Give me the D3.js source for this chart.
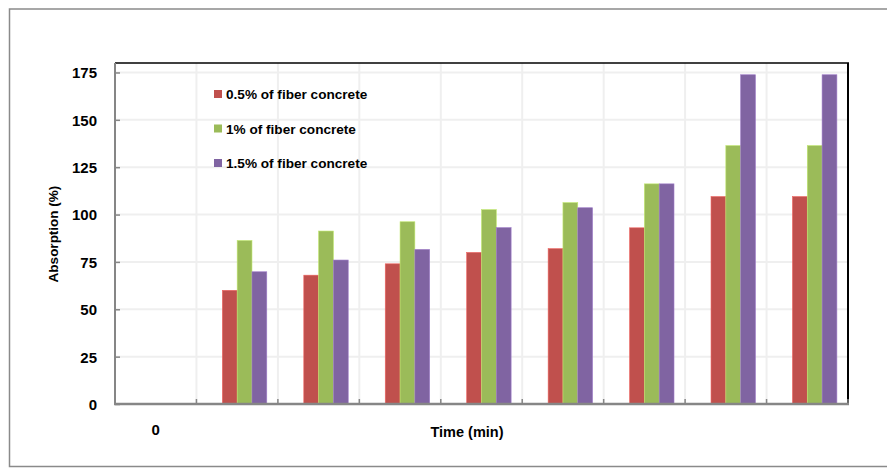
<!DOCTYPE html>
<html><head><meta charset="utf-8">
<script src="https://cdn.jsdelivr.net/npm/d3@7"></script>
<style>body{margin:0;background:#fff}svg{display:block}text{font-family:"Liberation Sans",Arial,sans-serif;font-weight:bold;fill:#000}</style>
</head><body>
<svg id="c" width="887" height="468"></svg>
<script>
const categories = ["0","1","2","3","4","5","6","7","8"];
const tickLabels = ["0","","","","","","","",""];
const seriesNames = ["0.5% of fiber concrete","1% of fiber concrete","1.5% of fiber concrete"];
const seriesColors = ["#C0504D","#9BBB59","#8064A2"];
const s05 = [null,60,68,74,80,82,93,109.5,109.5];
const s10 = [null,86.3,91.3,96.2,102.6,106.3,116.2,136.4,136.4];
const s15 = [null,69.8,76,81.6,93.1,103.6,116.2,173.8,173.8];
const yTicks = [0,25,50,75,100,125,150,175];

const svg = d3.select("#c");
const L=115,R=848,T=63,B=404;
// outer frame
svg.append("rect").attr("x",9.5).attr("y",9).attr("width",900).attr("height",457.5)
  .attr("fill","none").attr("stroke","#8a8a8a").attr("stroke-width",1.5);

const x0 = d3.scaleBand().domain(categories).range([L,R]).paddingInner(0).paddingOuter(0);
const slots = ["blank","a","b","c"];
const clusterW = x0.bandwidth()*4/5.5;
const x1 = d3.scaleBand().domain(slots).range([0,clusterW]);
const y = d3.scaleLinear().domain([0,180]).range([B,T]);

// gridlines
const g = svg.append("g");
g.selectAll("line.h").data(yTicks.filter(d=>d>0)).join("line")
  .attr("x1",L).attr("x2",R).attr("y1",d=>y(d)).attr("y2",d=>y(d))
  .attr("stroke","#efefef").attr("stroke-width",2);
g.selectAll("line.v").data(categories.slice(1)).join("line")
  .attr("x1",d=>x0(d)).attr("x2",d=>x0(d)).attr("y1",T).attr("y2",B)
  .attr("stroke","#efefef").attr("stroke-width",2);

// bars
const series = [s05,s10,s15];
series.forEach((vals,si)=>{
  svg.append("g").selectAll("rect").data(categories.map((c,i)=>({c,v:vals[i]})).filter(d=>d.v!=null)).join("rect")
    .attr("x",d=>x0(d.c)+(x0.bandwidth()-clusterW)/2+x1(slots[si+1]))
    .attr("width",x1.bandwidth())
    .attr("y",d=>y(d.v)).attr("height",d=>B-y(d.v))
    .attr("fill",seriesColors[si])
    .attr("stroke",d3.color(seriesColors[si]).brighter(0.6)).attr("stroke-width",0.6);
});

// plot border top/right
svg.append("line").attr("x1",L).attr("x2",R+1).attr("y1",T).attr("y2",T).attr("stroke","#000").attr("stroke-width",1.5);
svg.append("line").attr("x1",R).attr("x2",R).attr("y1",T).attr("y2",B).attr("stroke","#000").attr("stroke-width",2);

// y axis
const ya = svg.append("g").attr("transform",`translate(${L},0)`)
  .call(d3.axisRight(y).tickValues(yTicks).tickSize(5).tickFormat(d3.format("d")));
ya.select(".domain").attr("stroke","#868686").attr("stroke-width",2).attr("d",`M0,${T}V${B+1}`);
ya.selectAll(".tick line").attr("stroke","#868686").attr("stroke-width",1.5);
ya.selectAll(".tick text").attr("x",-18).attr("text-anchor","end").attr("dy","0.36em")
  .style("font-size","15px");

// x axis
const xa = svg.append("g").attr("transform",`translate(0,${B})`);
xa.append("line").attr("x1",L-1).attr("x2",R+1).attr("y1",0).attr("y2",0).attr("stroke","#868686").attr("stroke-width",2.5);
xa.selectAll("line.t").data(categories.slice(1).concat(["end"])).join("line")
  .attr("x1",d=>d==="end"?R:x0(d)).attr("x2",d=>d==="end"?R:x0(d)).attr("y1",0).attr("y2",-5)
  .attr("stroke","#868686").attr("stroke-width",1.5);
xa.selectAll("text").data(categories).join("text")
  .attr("x",d=>x0(d)+x0.bandwidth()/2).attr("y",31).attr("text-anchor","middle")
  .style("font-size","15px").text((d,i)=>tickLabels[i]);

// axis titles
svg.append("text").attr("x",467).attr("y",437).attr("text-anchor","middle").style("font-size","14.5px").text("Time (min)");
svg.append("text").attr("transform","translate(58,234) rotate(-90)").attr("text-anchor","middle").style("font-size","13.5px").text("Absorption (%)");

// legend
const lg = svg.append("g");
seriesNames.forEach((n,i)=>{
  const cy = [94,128.5,163][i];
  lg.append("rect").attr("x",214).attr("y",cy-4).attr("width",8).attr("height",8).attr("fill",seriesColors[i]);
  lg.append("text").attr("x",226).attr("y",cy+5).style("font-size","13.6px").text(n);
});
</script>
</body></html>
